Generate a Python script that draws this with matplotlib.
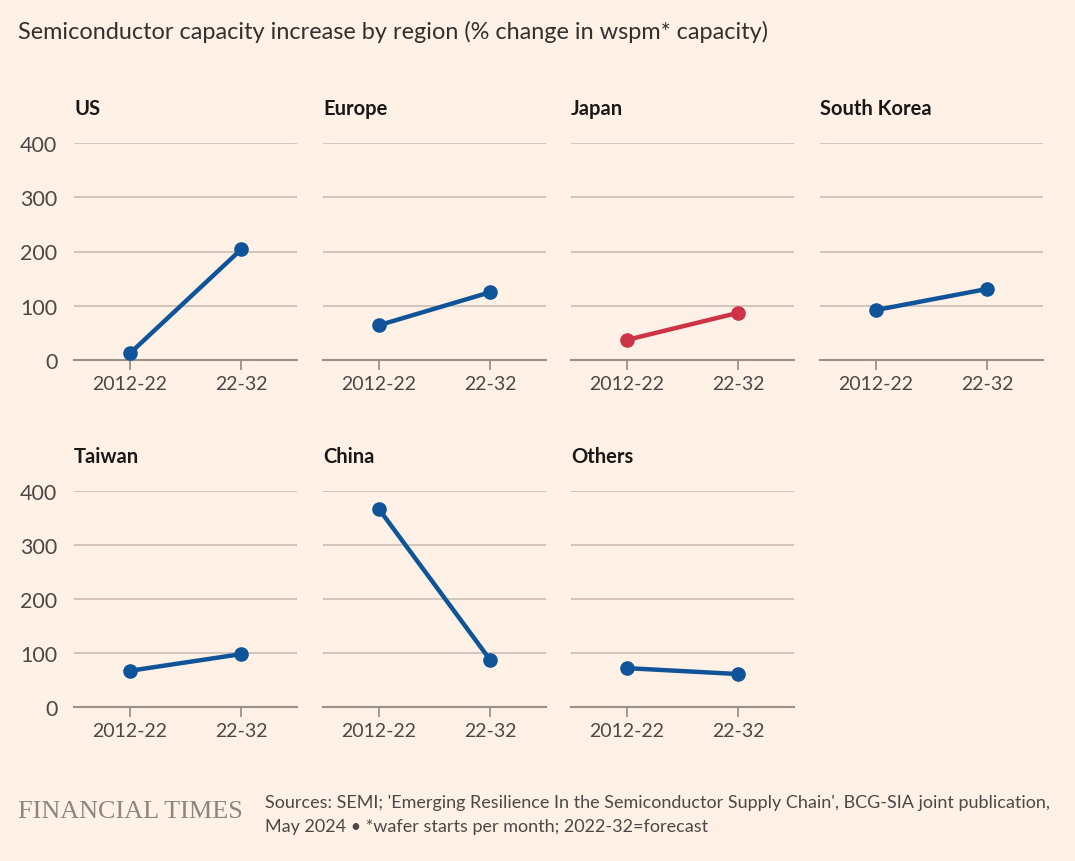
import matplotlib
matplotlib.use("Agg")
import matplotlib.pyplot as plt

# Data (% change in wspm capacity)
regions = ["US", "Europe", "Japan", "South Korea", "Taiwan", "China", "Others"]
periods = ["2012-22", "22-32"]
us = [12, 204]
europe = [64, 125]
japan = [37, 87]
south_korea = [92, 131]
taiwan = [67, 98]
china = [367, 87]
others = [72, 61]
values = [us, europe, japan, south_korea, taiwan, china, others]
yticks = [0, 100, 200, 300, 400]

bg = "#fff1e5"
blue = "#0f5499"
red = "#cc3347"
grid_col = "#cec3b9"
base_col = "#9a918a"
text_col = "#33302e"
tick_col = "#4d4845"

plt.rcParams["font.family"] = ["Lato", "DejaVu Sans"]

fig = plt.figure(figsize=(10.75, 8.62), dpi=100, facecolor=bg)
W, H = 1075, 862

lefts = [74, 323, 571, 820]
ax_w = 223
rows = [(144, 361), (492, 708)]  # top (400) and bottom (0) pixel positions

for i, (name, vals) in enumerate(zip(regions, values)):
    r, c = divmod(i, 4)
    top, bot = rows[r]
    ax = fig.add_axes([lefts[c] / W, (H - bot) / H, ax_w / W, (bot - top) / H])
    ax.set_facecolor(bg)
    ax.set_xlim(-0.5, 1.5)
    ax.set_ylim(0, 400)
    for s in ax.spines.values():
        s.set_visible(False)
    for y in yticks[1:]:
        ax.axhline(y, color=grid_col, lw=1.3, zorder=1)
    ax.axhline(0, color=base_col, lw=1.5, zorder=1, clip_on=False)
    col = red if name == "Japan" else blue
    ax.plot([0, 1], vals, color=col, lw=3.2, marker="o", ms=9.5,
            solid_capstyle="round", zorder=3, clip_on=False)
    ax.set_xticks([0, 1])
    ax.set_xticklabels(periods)
    ax.tick_params(axis="x", length=7, width=1.3, color=base_col,
                   labelsize=14, labelcolor=tick_col, pad=4)
    ax.set_yticks(yticks)
    if c == 0:
        ax.tick_params(axis="y", length=0, labelsize=15.5,
                       labelcolor=tick_col, pad=12)
    else:
        ax.tick_params(axis="y", length=0, labelleft=False)
    fig.text(lefts[c] / W, 1 - (top - 35) / H, name, fontsize=14.5,
             fontweight="bold", color="#1a1817", ha="left", va="center")

fig.text(18 / W, 1 - 32 / H,
         "Semiconductor capacity increase by region (% change in wspm* capacity)",
         fontsize=16.9, color=text_col, ha="left", va="center")

fig.text(18 / W, 1 - 812 / H, "FINANCIAL TIMES", fontsize=18.8,
         family="Liberation Serif", color="#8d857f", ha="left", va="center")
fig.text(265 / W, 1 - 803 / H,
         "Sources: SEMI; 'Emerging Resilience In the Semiconductor Supply Chain', BCG-SIA joint publication,",
         fontsize=13, color=tick_col, ha="left", va="center")
fig.text(265 / W, 1 - 827 / H,
         "May 2024 \u2022 *wafer starts per month; 2022-32=forecast",
         fontsize=13, color=tick_col, ha="left", va="center")

fig.savefig("out.png", dpi=100, facecolor=bg)
